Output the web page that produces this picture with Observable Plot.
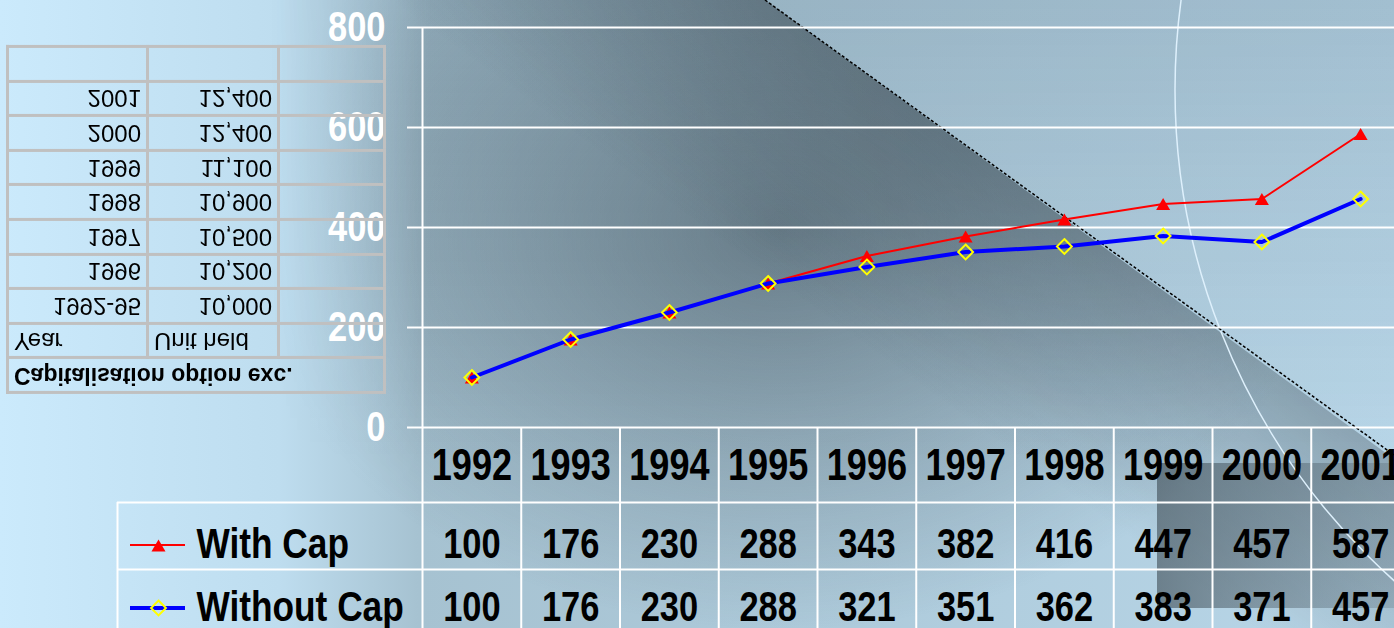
<!DOCTYPE html>
<html>
<head>
<meta charset="utf-8">
<script src="https://cdn.jsdelivr.net/npm/d3@7"></script>
<script src="https://cdn.jsdelivr.net/npm/@observablehq/plot@0.6"></script>
<style>
  html, body { margin: 0; padding: 0; width: 1394px; height: 628px; overflow: hidden; }
  #stage { position: relative; width: 1394px; height: 628px; overflow: hidden; }
  #bg { position: absolute; left: 0; top: 0; }
  #chart { position: absolute; left: 0; top: 0; width: 1420px; height: 628px; }
  #flip {
    position: absolute; left: 6px; top: 45px; width: 377px; height: 346px;
    border-collapse: collapse; table-layout: fixed; transform: scaleY(-1);
    font-family: "Liberation Sans", Arial, sans-serif; font-size: 24px; color: #000;
  }
  #flip td { border: 3px solid #c0c0c0; padding: 0 5px; line-height: 1; white-space: nowrap; overflow: hidden; }
  #flip td.r { text-align: right; }
  #flip td.ttl { font-weight: bold; font-size: 23px; }
</style>
</head>
<body>
<div id="stage">
  <svg id="bg" width="1394" height="628">
    <defs>
      <linearGradient id="base" gradientUnits="userSpaceOnUse" x1="0" y1="0" x2="1394" y2="0">
        <stop offset="0" stop-color="rgb(203,234,252)"/>
        <stop offset="0.2" stop-color="rgb(190,221,239)"/>
        <stop offset="0.3" stop-color="rgb(166,194,209)"/>
        <stop offset="1" stop-color="rgb(184,214,232)"/>
      </linearGradient>
      <linearGradient id="topdark" gradientUnits="userSpaceOnUse" x1="0" y1="0" x2="0" y2="460">
        <stop offset="0" stop-color="rgb(40,60,75)" stop-opacity="0.15"/>
        <stop offset="1" stop-color="rgb(40,60,75)" stop-opacity="0"/>
      </linearGradient>
      <linearGradient id="leftfade" gradientUnits="userSpaceOnUse" x1="270" y1="0" x2="430" y2="0">
        <stop offset="0" stop-color="#fff" stop-opacity="0"/>
        <stop offset="1" stop-color="#fff" stop-opacity="1"/>
      </linearGradient>
      <mask id="mright"><rect width="1394" height="628" fill="url(#leftfade)"/></mask>
      <linearGradient id="perp" gradientUnits="userSpaceOnUse" x1="765" y1="0" x2="635.6" y2="178">
        <stop offset="0" stop-color="rgb(45,58,66)" stop-opacity="0.36"/>
        <stop offset="1" stop-color="rgb(45,58,66)" stop-opacity="0"/>
      </linearGradient>
      <linearGradient id="along" gradientUnits="userSpaceOnUse" x1="765" y1="0" x2="1412" y2="470">
        <stop offset="0" stop-color="#fff" stop-opacity="1"/>
        <stop offset="1" stop-color="#fff" stop-opacity="0.85"/>
      </linearGradient>
      <mask id="malong"><rect width="1394" height="628" fill="url(#along)"/></mask>
      <radialGradient id="blob" gradientUnits="userSpaceOnUse" cx="0" cy="0" r="1"
        gradientTransform="translate(780,230) scale(540,400)">
        <stop offset="0" stop-color="rgb(45,58,66)" stop-opacity="0.5"/>
        <stop offset="0.5" stop-color="rgb(45,58,66)" stop-opacity="0.25"/>
        <stop offset="1" stop-color="rgb(45,58,66)" stop-opacity="0"/>
      </radialGradient>
      <linearGradient id="dark" gradientUnits="userSpaceOnUse" x1="1157" y1="0" x2="1394" y2="0">
        <stop offset="0" stop-color="rgb(50,62,70)" stop-opacity="0.55"/>
        <stop offset="1" stop-color="rgb(50,62,70)" stop-opacity="0.18"/>
      </linearGradient>
      <clipPath id="under"><polygon points="765,0 1394,459 1394,628 0,628 0,0"/></clipPath>
    </defs>
    <rect width="1394" height="628" fill="url(#base)"/>
    <g mask="url(#mright)">
      <rect width="1394" height="628" fill="url(#topdark)"/>
      <g clip-path="url(#under)">
        <rect width="1394" height="628" fill="url(#blob)"/>
        <rect width="1394" height="628" fill="url(#perp)" mask="url(#malong)"/>
      </g>
    </g>
    <rect x="1157" y="463" width="240" height="145" fill="url(#dark)"/>
    <circle cx="1834" cy="90" r="659" fill="none" stroke="rgb(222,240,252)" stroke-width="1.5"/>
    <line x1="765" y1="0" x2="1394" y2="455" stroke="#000" stroke-width="1.5" stroke-dasharray="3 2"/>
  </svg>
  <div id="chart"></div>
  <table id="flip"><colgroup><col style="width:140px"><col style="width:131px"><col style="width:106px"></colgroup><tbody id="flipbody"></tbody></table>
</div>
<script>
// ---- data ----
const years = ["1992","1993","1994","1995","1996","1997","1998","1999","2000","2001"];
const withCap = [100,176,230,288,343,382,416,447,457,587];
const withoutCap = [100,176,230,288,321,351,362,383,371,457];
const yTicks = [0,200,400,600,800];
const seriesNames = ["With Cap","Without Cap"];
const unitTitle = "Capitalisation option exc.";
const unitHeaders = ["Year","Unit held"];
const unitYears = ["1992-95","1996","1997","1998","1999","2000","2001"];
const unitHeld = ["10,000","10,200","10,500","10,900","11,100","12,400","12,400"];

// ---- mirrored table ----
const tb = document.getElementById("flipbody");
function addRow(cells) {
  const tr = document.createElement("tr");
  tr.style.height = "34.6px";
  for (const c of cells) {
    const td = document.createElement("td");
    if (c.cls) td.className = c.cls;
    if (c.span) td.colSpan = c.span;
    td.textContent = c.text || "";
    tr.appendChild(td);
  }
  tb.appendChild(tr);
}
addRow([{text: unitTitle, cls: "ttl", span: 3}]);
addRow([{text: unitHeaders[0]}, {text: unitHeaders[1]}, {}]);
unitYears.forEach((y, i) => addRow([{text: y, cls: "r"}, {text: unitHeld[i], cls: "r"}, {}]));
addRow([{}, {}, {}]);

// ---- chart ----
const rowsWith = years.map((year, i) => ({year, value: withCap[i]}));
const rowsWithout = years.map((year, i) => ({year, value: withoutCap[i]}));
const W = 1420, H = 628, left = 422, bw = 98.75;
const FONT = "'Liberation Sans', Arial, sans-serif";
const red = "#ff0000", blue = "#0000ff", yellow = "#ffff00";
const txt = {fontSize: 42, fontWeight: "bold", fill: "#000", fontFamily: FONT, lineAnchor: "middle"};

const chart = Plot.plot({
  width: W, height: H,
  marginLeft: left, marginRight: W - left - 10 * bw, marginTop: 27, marginBottom: 201,
  style: {background: "transparent", maxWidth: "none", overflow: "visible", fontFamily: FONT},
  x: {type: "band", domain: years, padding: 0, round: false, axis: null},
  y: {domain: [0, 800], axis: null},
  marks: [
    Plot.gridY({ticks: yTicks, stroke: "white", strokeOpacity: 1, strokeWidth: 2}),
    Plot.axisY({ticks: yTicks, tickSize: 15, tickPadding: 22, color: "white", strokeWidth: 2, strokeOpacity: 1,
      fontSize: 42, fontWeight: "bold", fontFamily: FONT, tickFormat: d => String(d), label: null}),
    // table grid
    Plot.ruleX([years[0]], {x: d => d, dx: -bw / 2, insetBottom: -215, stroke: "white", strokeWidth: 2}),
    Plot.ruleX(years.slice(1), {x: d => d, dx: -bw / 2, insetTop: 400, insetBottom: -215, stroke: "white", strokeWidth: 2}),
    Plot.ruleX([years[0]], {x: d => d, dx: -bw / 2 - 305, insetTop: 475, insetBottom: -215, stroke: "white", strokeWidth: 2}),
    Plot.ruleY([0], {dy: 75, insetLeft: -305, insetRight: -20, stroke: "white", strokeWidth: 2}),
    Plot.ruleY([0], {dy: 142, insetLeft: -305, insetRight: -20, stroke: "white", strokeWidth: 2}),
    // series
    Plot.line(rowsWith, {x: "year", y: "value", stroke: red, strokeWidth: 2}),
    Plot.dot(rowsWith, {x: "year", y: "value", symbol: "triangle", r: 5.2, fill: red, dy: 2}),
    Plot.line(rowsWithout, {x: "year", y: "value", stroke: blue, strokeWidth: 4}),
    Plot.dot(rowsWithout, {x: "year", y: "value", symbol: "diamond2", r: 6.7, stroke: yellow, strokeWidth: 2, fill: "none"}),
    // data table text
    Plot.text(years, {x: d => d, frameAnchor: "bottom", dy: 38.5, text: d => d, ...txt, fontSize: 44}),
    Plot.text(rowsWith, {x: "year", frameAnchor: "bottom", dy: 117.5, text: d => String(d.value), ...txt}),
    Plot.text(rowsWithout, {x: "year", frameAnchor: "bottom", dy: 180.5, text: d => String(d.value), ...txt}),
    // legend
    Plot.ruleY([0], {dy: 117.5, insetLeft: -292, insetRight: left + 10 * bw - 185, stroke: red, strokeWidth: 2}),
    Plot.dot([0], {frameAnchor: "bottom-left", dx: -264, dy: 120, symbol: "triangle", r: 5.2, fill: red}),
    Plot.text([seriesNames[0]], {frameAnchor: "bottom-left", dx: -226, dy: 117, textAnchor: "start", text: d => d, ...txt, fontSize: 43}),
    Plot.ruleY([0], {dy: 180.5, insetLeft: -292, insetRight: left + 10 * bw - 185, stroke: blue, strokeWidth: 4}),
    Plot.dot([0], {frameAnchor: "bottom-left", dx: -264, dy: 180.5, symbol: "diamond2", r: 6.7, stroke: yellow, strokeWidth: 2, fill: "none"}),
    Plot.text([seriesNames[1]], {frameAnchor: "bottom-left", dx: -226, dy: 180, textAnchor: "start", text: d => d, ...txt, fontSize: 43})
  ]
});
document.getElementById("chart").appendChild(chart);
// narrow (Arial Narrow-like) rendering: condense every chart text to 82% of its width
chart.querySelectorAll("text").forEach(t => {
  const w = t.getComputedTextLength();
  if (w > 0) {
    t.setAttribute("textLength", (w * 0.82).toFixed(2));
    t.setAttribute("lengthAdjust", "spacingAndGlyphs");
  }
});
</script>
</body>
</html>
